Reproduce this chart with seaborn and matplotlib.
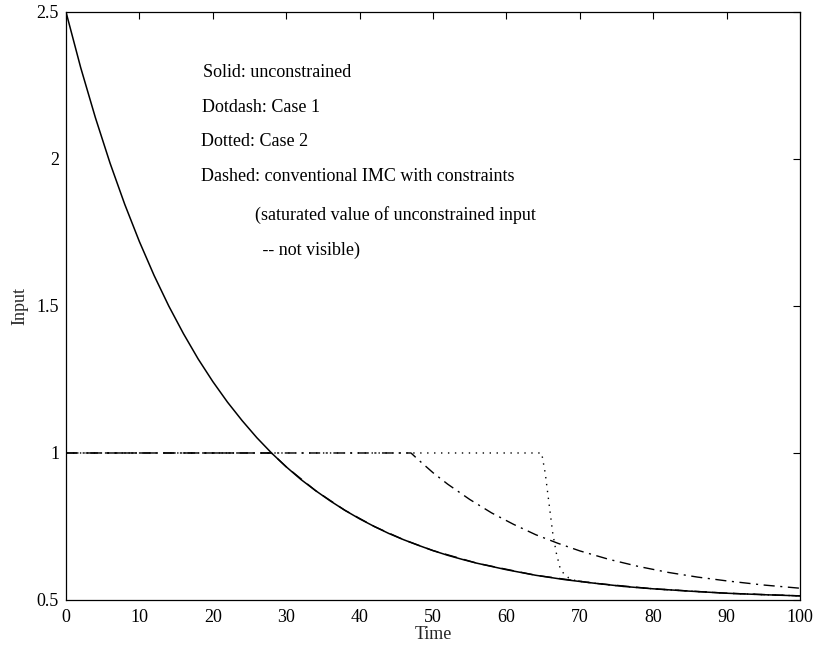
import matplotlib
matplotlib.use("Agg")
import matplotlib.pyplot as plt
import seaborn as sns
import pandas as pd

# Solid: unconstrained input
t_solid = [0, 2, 4, 6, 8, 10, 12, 14, 16, 18, 20, 22, 24, 26, 28, 30, 32, 34, 36, 38,
           40, 42, 44, 46, 48, 50, 52, 54, 56, 60, 64, 68, 72, 76, 80, 85, 90, 95, 100]
u_solid = [2.5, 2.311, 2.141, 1.986, 1.846, 1.719, 1.604, 1.500, 1.406, 1.320, 1.243,
           1.173, 1.110, 1.052, 1.000, 0.953, 0.910, 0.872, 0.837, 0.805, 0.776, 0.750,
           0.726, 0.705, 0.686, 0.668, 0.652, 0.638, 0.625, 0.603, 0.584, 0.569, 0.557,
           0.546, 0.538, 0.530, 0.523, 0.518, 0.514]

# Dotdash: Case 1
t_case1 = [0, 47, 48, 50, 52, 55, 58, 61, 64, 67, 70, 74, 78, 82, 86, 90, 95, 100]
u_case1 = [1.0, 1.0, 0.977, 0.933, 0.894, 0.842, 0.796, 0.757, 0.722, 0.693, 0.667,
           0.638, 0.614, 0.594, 0.578, 0.565, 0.551, 0.540]

# Dotted: Case 2
t_case2 = [0, 64.8, 65.3, 65.8, 66.3, 66.8, 67.3, 67.8, 68.5, 69.5, 72, 76, 80, 85, 90, 95, 100]
u_case2 = [1.0, 1.0, 0.93, 0.83, 0.73, 0.66, 0.61, 0.59, 0.575, 0.565, 0.557, 0.546,
           0.538, 0.530, 0.523, 0.518, 0.514]

# Dashed: conventional IMC with constraints (saturated unconstrained input)
t_dashed = [0, 28, 30, 34, 38, 42, 46, 50, 56, 64, 72, 80, 90, 100]
u_dashed = [1.0, 1.0, 0.953, 0.872, 0.805, 0.750, 0.705, 0.668, 0.625, 0.584, 0.557,
            0.538, 0.523, 0.514]

notes = ["Solid: unconstrained", "Dotdash: Case 1", "Dotted: Case 2",
         "Dashed: conventional IMC with constraints",
         "(saturated value of unconstrained input", " -- not visible)"]

sns.set_theme(style="white")
plt.rcParams["font.family"] = ["Liberation Serif", "DejaVu Serif"]

fig = plt.figure(figsize=(8.26, 6.48), dpi=100)
ax = fig.add_axes([0.0799, 0.0741, 0.8886, 0.9074])

df_d = pd.DataFrame({"t": t_dashed, "u": u_dashed})
df_2 = pd.DataFrame({"t": t_case2, "u": u_case2})
df_1 = pd.DataFrame({"t": t_case1, "u": u_case1})
df_s = pd.DataFrame({"t": t_solid, "u": u_solid})

sns.lineplot(data=df_d, x="t", y="u", ax=ax, color="black", linewidth=1.0, sort=False)
ax.lines[-1].set_linestyle((0, (9, 5)))
sns.lineplot(data=df_2, x="t", y="u", ax=ax, color="black", linewidth=1.0, sort=False)
ax.lines[-1].set_linestyle((0, (1, 4)))
sns.lineplot(data=df_1, x="t", y="u", ax=ax, color="black", linewidth=1.0, sort=False)
ax.lines[-1].set_linestyle((0, (8, 4, 1.5, 4)))
sns.lineplot(data=df_s, x="t", y="u", ax=ax, color="black", linewidth=1.1, sort=False)

ax.set_xlim(0, 100)
ax.set_ylim(0.5, 2.5)
ax.set_xticks(range(0, 101, 10))
ax.set_yticks([0.5, 1, 1.5, 2, 2.5])
ax.set_yticklabels(["0.5", "1", "1.5", "2", "2.5"])
ax.tick_params(direction="in", length=5, width=0.8, top=True, right=True,
               labelsize=13, colors="black")
ax.tick_params(axis="x", pad=6.5)
ax.tick_params(axis="y", pad=5)
for s in ax.spines.values():
    s.set_color("black")
    s.set_linewidth(0.9)
ax.set_xlabel("Time", fontsize=13, labelpad=0)
ax.set_ylabel("Input", fontsize=13, labelpad=6)

text_pos = [(18.7, 2.295), (18.5, 2.176), (18.4, 2.059), (18.4, 1.941),
            (25.8, 1.811), (26.2, 1.689)]
for (x, y), s in zip(text_pos, notes):
    ax.text(x, y, s, fontsize=13, va="center", ha="left", color="black")

fig.savefig("out.png", dpi=100)
